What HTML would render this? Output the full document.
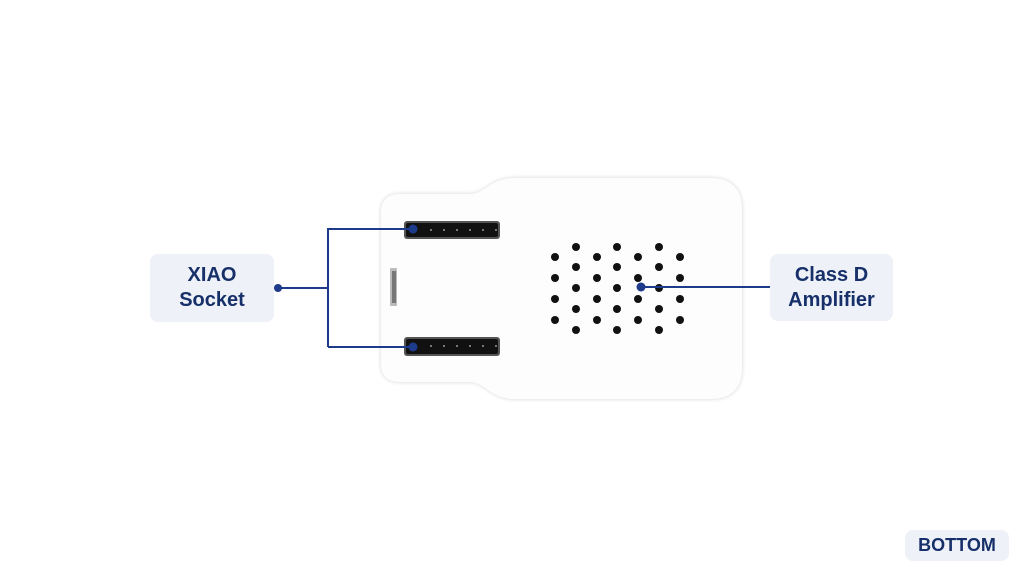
<!DOCTYPE html>
<html><head><style>
body{margin:0;width:1024px;height:576px;background:#fff;overflow:hidden;position:relative;font-family:"Liberation Sans",sans-serif}
.box{position:absolute;background:#eef2f8;border-radius:8px;color:#17306a;font-weight:bold;display:flex;align-items:center;justify-content:center;text-align:center;line-height:25px;font-size:20px}
</style></head><body>
<svg width="1024" height="576" style="position:absolute;left:0;top:0">
<defs><filter id="s" x="-10%" y="-10%" width="120%" height="120%"><feGaussianBlur stdDeviation="1.5"/></filter></defs>
<path d="M400 193 H470 C485 193 490 177 515 177 H710 Q743 177 743 210 V368 Q743 400 710 400 H515 C490 400 485 383 470 383 H400 Q380 383 380 363 V213 Q380 193 400 193 Z" fill="#e4e4e4" filter="url(#s)"/>
<path d="M400 194 H470 C485 194 490 178 515 178 H710 Q742 178 742 210 V368 Q742 399 710 399 H515 C490 399 485 382 470 382 H400 Q381 382 381 363 V213 Q381 194 400 194 Z" fill="#fdfdfd"/>
<rect x="404" y="221" width="96" height="18" rx="3" fill="#555"/>
<rect x="406" y="223" width="92" height="14" rx="2" fill="#111"/>
<rect x="404" y="337" width="96" height="19" rx="3" fill="#555"/>
<rect x="406" y="339" width="92" height="15" rx="2" fill="#111"/>
<g fill="#999"><circle cx="431" cy="230" r="1"/><circle cx="444" cy="230" r="1"/><circle cx="457" cy="230" r="1"/><circle cx="470" cy="230" r="1"/><circle cx="483" cy="230" r="1"/><circle cx="496" cy="230" r="1"/>
<circle cx="431" cy="346" r="1"/><circle cx="444" cy="346" r="1"/><circle cx="457" cy="346" r="1"/><circle cx="470" cy="346" r="1"/><circle cx="483" cy="346" r="1"/><circle cx="496" cy="346" r="1"/></g>
<rect x="390" y="268" width="7" height="38" rx="1" fill="#bbb"/><rect x="392" y="271" width="4" height="32" fill="#777"/>
<g fill="#111">
<circle cx="555" cy="257" r="4"/><circle cx="555" cy="278" r="4"/><circle cx="555" cy="299" r="4"/><circle cx="555" cy="320" r="4"/>
<circle cx="597" cy="257" r="4"/><circle cx="597" cy="278" r="4"/><circle cx="597" cy="299" r="4"/><circle cx="597" cy="320" r="4"/>
<circle cx="638" cy="257" r="4"/><circle cx="638" cy="278" r="4"/><circle cx="638" cy="299" r="4"/><circle cx="638" cy="320" r="4"/>
<circle cx="680" cy="257" r="4"/><circle cx="680" cy="278" r="4"/><circle cx="680" cy="299" r="4"/><circle cx="680" cy="320" r="4"/>
<circle cx="576" cy="247" r="4"/><circle cx="576" cy="267" r="4"/><circle cx="576" cy="288" r="4"/><circle cx="576" cy="309" r="4"/><circle cx="576" cy="330" r="4"/>
<circle cx="617" cy="247" r="4"/><circle cx="617" cy="267" r="4"/><circle cx="617" cy="288" r="4"/><circle cx="617" cy="309" r="4"/><circle cx="617" cy="330" r="4"/>
<circle cx="659" cy="247" r="4"/><circle cx="659" cy="267" r="4"/><circle cx="659" cy="288" r="4"/><circle cx="659" cy="309" r="4"/><circle cx="659" cy="330" r="4"/>
</g>
<g stroke="#1e3a8a" stroke-width="2" fill="none">
<path d="M278 288 H328 M328 228 V347 M328 229 H413 M328 347 H413 M641 287 H770"/>
</g>
<g fill="#1e3a8a"><circle cx="278" cy="288" r="4"/><circle cx="413" cy="229" r="4.5"/><circle cx="413" cy="347" r="4.5"/><circle cx="641" cy="287" r="4.5"/></g>
</svg>
<div class="box" style="left:150px;top:254px;width:124px;height:68px">XIAO<br>Socket</div>
<div class="box" style="left:770px;top:254px;width:123px;height:67px">Class D<br>Amplifier</div>
<div class="box" style="left:905px;top:530px;width:104px;height:31px;font-size:18px">BOTTOM</div>
</body></html>
